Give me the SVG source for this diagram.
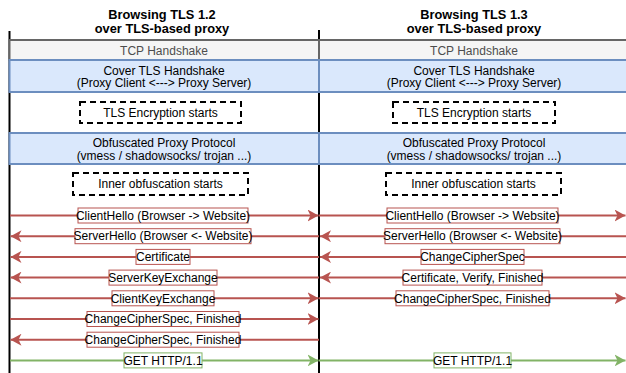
<svg xmlns="http://www.w3.org/2000/svg" width="626" height="373" viewBox="0 0 626 373">
<style>
text{font-family:"Liberation Sans",Arial,sans-serif;font-size:12px;fill:#000;text-anchor:middle}
.title{font-weight:bold;font-size:12.8px}
.tcp{fill:#f5f5f5;stroke:#666;stroke-width:2}
.tcpt{fill:#4d4d4d}
.blue{fill:#dae8fc;stroke:#6c8ebf;stroke-width:2}
.dash{fill:#fff;stroke:#000;stroke-width:2;stroke-dasharray:6 4}
.life{stroke:#000;stroke-width:2;fill:none}
.r{stroke:#b85450;stroke-width:2;fill:none;marker-end:url(#ar)}
.g{stroke:#82b366;stroke-width:2;fill:none;marker-end:url(#ag)}
.lr{fill:#fff;stroke:#b85450;stroke-width:1}
.lg{fill:#fff;stroke:#82b366;stroke-width:1}
</style>
<defs>
<marker id="ar" viewBox="0 0 11 12" refX="11" refY="6" markerWidth="11" markerHeight="12" markerUnits="userSpaceOnUse" orient="auto"><path d="M0,0 L11,6 L0,12 L3,6 Z" fill="#b85450"/></marker>
<marker id="ag" viewBox="0 0 11 12" refX="11" refY="6" markerWidth="11" markerHeight="12" markerUnits="userSpaceOnUse" orient="auto"><path d="M0,0 L11,6 L0,12 L3,6 Z" fill="#82b366"/></marker>
</defs>
<rect width="626" height="373" fill="#fff"/>
<g id="titles">
<text class="title" x="162" y="18.5">Browsing TLS 1.2</text>
<text class="title" x="162" y="32.5">over TLS-based proxy</text>
<text class="title" x="474" y="18.5">Browsing TLS 1.3</text>
<text class="title" x="474" y="32.5">over TLS-based proxy</text>
</g>
<g id="lifelines">
<line class="life" x1="9.5" y1="31" x2="9.5" y2="373"/>
<line class="life" x1="319" y1="30" x2="319" y2="373"/>
</g>
<g id="tcp-left"><rect class="tcp" x="9.5" y="40" width="309.5" height="20"/><text class="tcpt" x="164" y="55">TCP Handshake</text></g>
<g id="tcp-right"><rect class="tcp" x="319" y="40" width="320" height="20"/><text class="tcpt" x="474" y="55">TCP Handshake</text></g>
<g id="cover-left"><rect class="blue" x="9.5" y="60" width="309.5" height="32"/><text x="164" y="74.5">Cover TLS Handshake</text><text x="164" y="87">(Proxy Client &lt;---&gt; Proxy Server)</text></g>
<g id="cover-right"><rect class="blue" x="319" y="60" width="320" height="32"/><text x="474" y="74.5">Cover TLS Handshake</text><text x="474" y="87">(Proxy Client &lt;---&gt; Proxy Server)</text></g>
<g id="tlsenc-left"><rect class="dash" x="80" y="102" width="161" height="21"/><text x="160.5" y="116.5">TLS Encryption starts</text></g>
<g id="tlsenc-right"><rect class="dash" x="393" y="102" width="162" height="21"/><text x="474" y="116.5">TLS Encryption starts</text></g>
<g id="obf-left"><rect class="blue" x="9.5" y="133" width="309.5" height="31"/><text x="164" y="147">Obfuscated Proxy Protocol</text><text x="164" y="159.5">(vmess / shadowsocks/ trojan ...)</text></g>
<g id="obf-right"><rect class="blue" x="319" y="133" width="320" height="31"/><text x="474" y="147">Obfuscated Proxy Protocol</text><text x="474" y="159.5">(vmess / shadowsocks/ trojan ...)</text></g>
<g id="inner-left"><rect class="dash" x="73" y="173" width="175" height="22"/><text x="160.5" y="188">Inner obfuscation starts</text></g>
<g id="inner-right"><rect class="dash" x="386" y="173" width="175" height="22"/><text x="473.5" y="188">Inner obfuscation starts</text></g>
<g id="connectors">
<line class="r" x1="10" y1="215.5" x2="318.5" y2="215.5"/>
<line class="r" x1="319" y1="236.2" x2="10.5" y2="236.2"/>
<line class="r" x1="319" y1="256.9" x2="10.5" y2="256.9"/>
<line class="r" x1="319" y1="277.6" x2="10.5" y2="277.6"/>
<line class="r" x1="10" y1="298.3" x2="318.5" y2="298.3"/>
<line class="r" x1="10" y1="319" x2="318.5" y2="319"/>
<line class="r" x1="319" y1="339.7" x2="10.5" y2="339.7"/>
<line class="g" x1="10" y1="360.4" x2="318.5" y2="360.4"/>
<line class="r" x1="319" y1="215.5" x2="625.5" y2="215.5"/>
<line class="r" x1="630" y1="236.2" x2="320" y2="236.2"/>
<line class="r" x1="630" y1="256.9" x2="320" y2="256.9"/>
<line class="r" x1="630" y1="277.6" x2="320" y2="277.6"/>
<line class="r" x1="319" y1="298.3" x2="625.5" y2="298.3"/>
<line class="g" x1="319" y1="360.4" x2="625.5" y2="360.4"/>
</g>
<g id="label-l1"><rect class="lr" x="78" y="208" width="170" height="15"/><text x="163" y="219.7">ClientHello (Browser -&gt; Website)</text></g>
<g id="label-l2"><rect class="lr" x="75" y="228.7" width="176" height="15"/><text x="163" y="240.4">ServerHello (Browser &lt;- Website)</text></g>
<g id="label-l3"><rect class="lr" x="136" y="249.4" width="54" height="15"/><text x="163" y="261.1">Certificate</text></g>
<g id="label-l4"><rect class="lr" x="109" y="270.1" width="108" height="15"/><text x="163" y="281.8">ServerKeyExchange</text></g>
<g id="label-l5"><rect class="lr" x="112" y="290.8" width="102" height="15"/><text x="163" y="302.5">ClientKeyExchange</text></g>
<g id="label-l6"><rect class="lr" x="87" y="311.5" width="152" height="15"/><text x="163" y="323.2">ChangeCipherSpec, Finished</text></g>
<g id="label-l7"><rect class="lr" x="87" y="332.2" width="152" height="15"/><text x="163" y="343.9">ChangeCipherSpec, Finished</text></g>
<g id="label-l8"><rect class="lg" x="124" y="352.9" width="78" height="15"/><text x="163" y="364.6">GET HTTP/1.1</text></g>
<g id="label-r1"><rect class="lr" x="387" y="208" width="171" height="15"/><text x="472.5" y="219.7">ClientHello (Browser -&gt; Website)</text></g>
<g id="label-r2"><rect class="lr" x="385" y="228.7" width="175" height="15"/><text x="472.5" y="240.4">ServerHello (Browser &lt;- Website)</text></g>
<g id="label-r3"><rect class="lr" x="421" y="249.4" width="103" height="15"/><text x="472.5" y="261.1">ChangeCipherSpec</text></g>
<g id="label-r4"><rect class="lr" x="403" y="270.1" width="139" height="15"/><text x="472.5" y="281.8">Certificate, Verify, Finished</text></g>
<g id="label-r5"><rect class="lr" x="396" y="290.8" width="153" height="15"/><text x="472.5" y="302.5">ChangeCipherSpec, Finished</text></g>
<g id="label-r8"><rect class="lg" x="434" y="352.9" width="77" height="15"/><text x="472.5" y="364.6">GET HTTP/1.1</text></g>
</svg>
